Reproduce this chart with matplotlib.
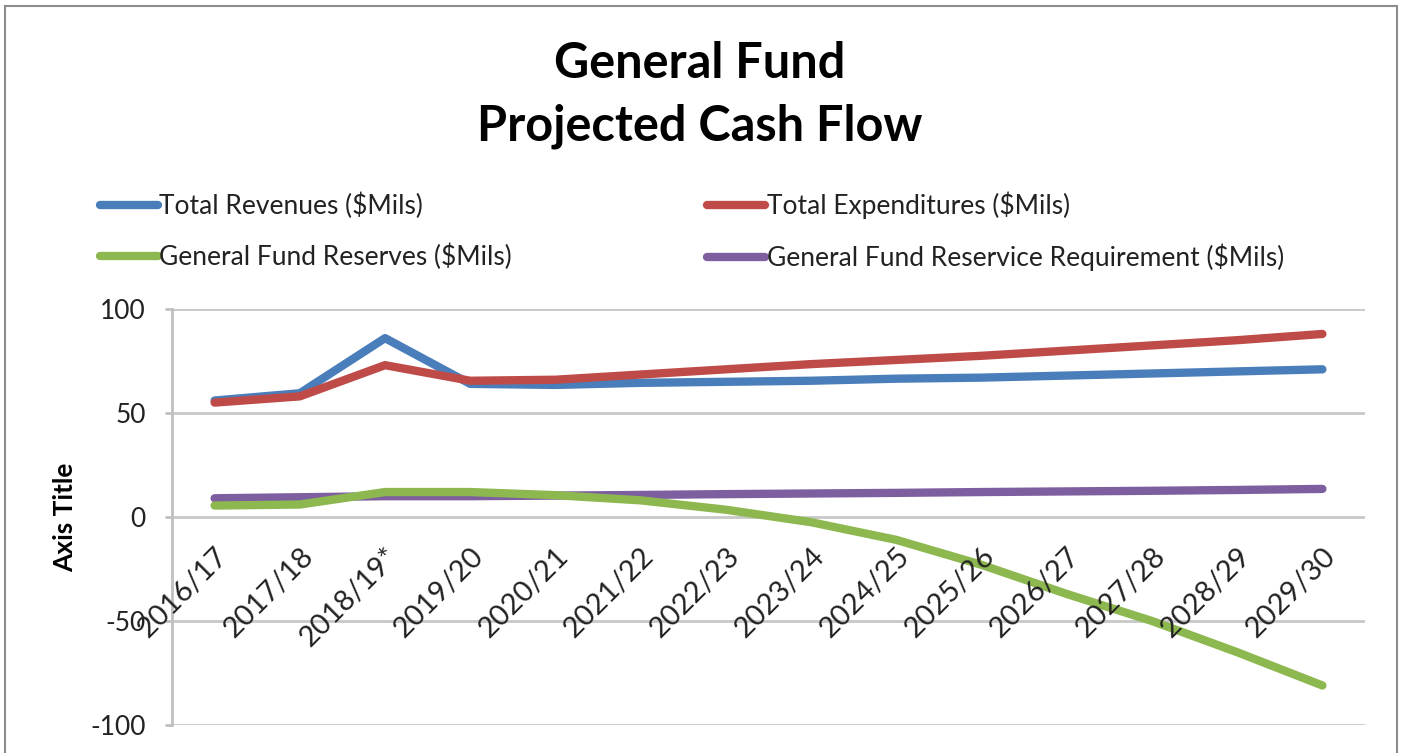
import matplotlib
matplotlib.use("Agg")
import matplotlib.pyplot as plt
from matplotlib.patches import Rectangle
from matplotlib.lines import Line2D
from matplotlib.transforms import offset_copy

plt.rcParams['font.family'] = ['Lato', 'DejaVu Sans']

years = ["2016/17", "2017/18", "2018/19*", "2019/20", "2020/21", "2021/22", "2022/23",
         "2023/24", "2024/25", "2025/26", "2026/27", "2027/28", "2028/29", "2029/30"]
revenues = [56, 59.5, 86, 64, 63.5, 64.5, 65, 65.5, 66.5, 67, 68, 69, 70, 71]
expenditures = [55, 58, 73, 65.5, 66, 68.5, 71, 73.5, 75.5, 77.5, 80, 82.5, 85, 88]
reserves = [5.5, 6, 12, 12, 10.5, 8, 3.5, -2.5, -11, -23, -37, -50, -65, -81]
requirement = [9, 9.5, 10, 10, 10.3, 10.6, 11, 11.3, 11.6, 12, 12.3, 12.6, 13, 13.5]

series_labels = ["Total Revenues ($Mils)", "Total Expenditures ($Mils)",
                 "General Fund Reserves ($Mils)", "General Fund Reservice Requirement ($Mils)"]
colors = ["#4A7EBB", "#BE4B48", "#8DB84F", "#7D5FA0"]
title = "General Fund\nProjected Cash Flow"
y_ticks = [-100, -50, 0, 50, 100]

W, H = 1403, 753
fig = plt.figure(figsize=(W / 100, H / 100), dpi=100)
fig.patch.set_facecolor("white")

# outer chart border
fig.add_artist(Rectangle((5 / W, -0.05), (1397 - 5) / W, 1.05 - 6 / H,
                         transform=fig.transFigure, fill=False,
                         edgecolor="#8C8C8C", linewidth=1.5))

ax = fig.add_axes([172 / W, 1 - 725 / H, (1365 - 172) / W, (725 - 309) / H])
x = list(range(len(years)))
data = [revenues, expenditures, reserves, requirement]
order = [0, 1, 3, 2]
for k in order:
    ax.plot(x, data[k], color=colors[k], linewidth=6, solid_capstyle="round",
            solid_joinstyle="round", label=series_labels[k], zorder=3)

ax.set_xlim(-0.5, len(years) - 0.5)
ax.set_ylim(-100, 100)
ax.set_yticks(y_ticks)
ax.set_yticklabels([str(v) for v in y_ticks])
ax.grid(axis="y", color="#C8C8C8", linewidth=2)
ax.set_axisbelow(True)
for s in ["top", "right", "bottom"]:
    ax.spines[s].set_visible(False)
ax.spines["left"].set_color("#C0C0C0")
ax.spines["left"].set_linewidth(2)
ax.tick_params(axis="y", length=5, width=2, color="#C0C0C0", labelsize=19,
               labelcolor="#222222", pad=14)
ax.set_xticks([])

ax.set_ylabel("Axis Title", fontsize=19, fontweight="bold", labelpad=9)

# category labels sit at the horizontal axis crossing (y = 0)
trans = offset_copy(ax.transData, fig=fig, x=0, y=-26, units="dots")
for i, lab in enumerate(years):
    ax.text(i, 0, lab, rotation=45, ha="right", va="top", rotation_mode="anchor",
            transform=trans, fontsize=21, color="#222222", clip_on=False)

fig.text(700 / W, 1 - 95 / H, title, ha="center", va="center", fontsize=35,
         fontweight="bold", linespacing=1.45)

leg_handles = [Line2D([], [], color=colors[k], linewidth=6, solid_capstyle="round")
               for k in [0, 2, 1, 3]]
leg_labels = [series_labels[k] for k in [0, 2, 1, 3]]
fig.legend(leg_handles, leg_labels, ncol=2, loc="upper left",
           bbox_to_anchor=(76 / W, 1 - 168 / H), frameon=False, fontsize=19,
           handlelength=2.2, handletextpad=0.05, columnspacing=7.4,
           labelspacing=0.93, labelcolor="#222222")

fig.savefig("out.png", dpi=100)
